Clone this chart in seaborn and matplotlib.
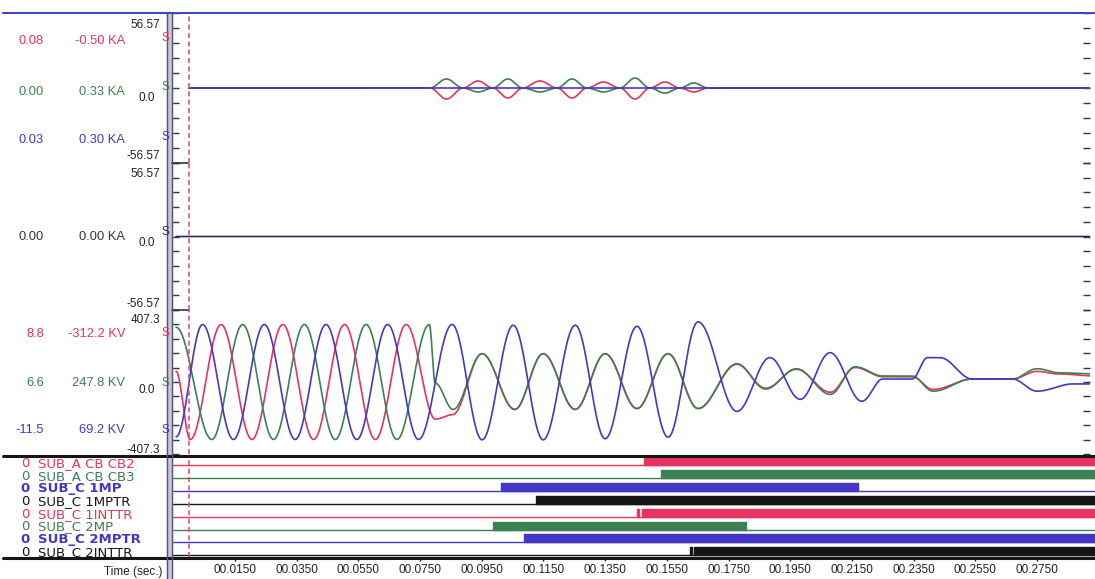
import numpy as np
import matplotlib
matplotlib.use("Agg")
import matplotlib.pyplot as plt
import seaborn as sns
from matplotlib.ticker import MultipleLocator

# ---- data ----
# voltage extrema (time s, kV) per phase
va_t = [-0.0041, 0.0005, 0.0105, 0.0205, 0.0305, 0.0405, 0.0505, 0.0605, 0.0705, 0.0800, 0.0855,
        0.0951, 0.1057, 0.1149, 0.1253, 0.1350, 0.1453, 0.1554, 0.1651, 0.1777, 0.1870, 0.1970,
        0.2080, 0.2160, 0.2250, 0.2345, 0.2413, 0.2540, 0.2670, 0.2750, 0.2823, 0.2940]
va_v = [60, -325, 325, -325, 325, -325, 325, -325, 325, -210, -185,
        160, -155, 160, -155, 160, -150, 160, -150, 100, -35, 72,
        -58, 82, 30, 30, -42, 17, 17, 60, 45, 34]
vb_t = [-0.0041, 0.0075, 0.0175, 0.0275, 0.0375, 0.0475, 0.0575, 0.0675, 0.0780, 0.0799, 0.0857,
        0.0951, 0.1057, 0.1149, 0.1253, 0.1350, 0.1453, 0.1554, 0.1651, 0.1777, 0.1870, 0.1970,
        0.2080, 0.2160, 0.2250, 0.2345, 0.2413, 0.2540, 0.2670, 0.2750, 0.2823, 0.2940]
vb_v = [310, -325, 325, -325, 325, -325, 325, -325, 325, -6, -155,
        160, -155, 160, -155, 160, -150, 160, -150, 103, -40, 75,
        -70, 86, 34, 34, -52, 17, 17, 75, 52, 46]
vc_t = [-0.0041, 0.0045, 0.0145, 0.0245, 0.0345, 0.0445, 0.0545, 0.0645, 0.0745, 0.0854, 0.0951,
        0.1052, 0.1149, 0.1253, 0.1350, 0.1453, 0.1554, 0.1651, 0.1777, 0.1884, 0.1982, 0.2079,
        0.2182, 0.2250, 0.2345, 0.2395, 0.2435, 0.2540, 0.2670, 0.2750, 0.2866, 0.2940]
vc_v = [-310, 325, -325, 325, -325, 325, -325, 325, -325, 325, -327,
        321, -327, 321, -321, 315, -312, 340, -166, 138, -98, 166,
        -109, 17, 17, 138, 138, 17, 17, -52, -11, -11]

# current lobes in the top channel (lobe edges in s, lobe peaks)
ia_edges = [0.0782, 0.0889, 0.0986, 0.1083, 0.1194, 0.1291, 0.1398, 0.1495, 0.1592, 0.1683]
ia_peaks = [-8.3, 5.3, -7.5, 5.3, -7.5, 4.5, -8.3, 4.5, -3.0]
ib_peaks = [6.8, -3.0, 6.8, -3.0, 6.8, -3.0, 7.5, -3.8, 3.8]

# digital channels
ch_names = ["SUB_A CB CB2", "SUB_A CB CB3", "SUB_C 1MP", "SUB_C 1MPTR",
            "SUB_C 1INTTR", "SUB_C 2MP", "SUB_C 2MPTR", "SUB_C 2INTTR"]
ch_on = [[(0.1477, 0.30)], [(0.1530, 0.30)], [(0.1013, 0.2170)], [(0.1125, 0.30)],
         [(0.1452, 0.1460), (0.1468, 0.30)], [(0.0987, 0.1806)], [(0.1087, 0.30)],
         [(0.1626, 0.1631), (0.1638, 0.30)]]

time_ticks = [0.015, 0.035, 0.055, 0.075, 0.095, 0.115, 0.135, 0.155,
              0.175, 0.195, 0.215, 0.235, 0.255, 0.275]
time_labels = ["00.0150", "00.0350", "00.0550", "00.0750", "00.0950", "00.1150", "00.1350",
               "00.1550", "00.1750", "00.1950", "00.2150", "00.2350", "00.2550", "00.2750"]

RED, GREEN, BLUE, BLACK = "#e8325f", "#3d8052", "#4636c6", "#151515"

sns.set_style("white")
plt.rcParams["font.family"] = ["Liberation Sans", "DejaVu Sans"]

W, H = 1095, 579
fig = plt.figure(figsize=(W / 100, H / 100), dpi=100)

T0_PX, PX_PER_S = 188.7, 3085.0


def t_of(px):
    return (px - T0_PX) / PX_PER_S


def add_panel(top, bottom, left=172, right=1090):
    ax = fig.add_axes([left / W, 1 - bottom / H, (right - left) / W, (bottom - top) / H])
    ax.set_facecolor("none")
    ax.set_xlim(t_of(left), t_of(right))
    for s in ax.spines.values():
        s.set_visible(False)
    return ax


def wave(tp, vp, t):
    # half-cosine between the extrema
    tp, vp = np.asarray(tp), np.asarray(vp, float)
    i = np.clip(np.searchsorted(tp, t) - 1, 0, len(tp) - 2)
    f = np.clip((t - tp[i]) / (tp[i + 1] - tp[i]), 0, 1)
    return vp[i] + (vp[i + 1] - vp[i]) * (1 - np.cos(np.pi * f)) / 2


def lobes(edges, peaks):
    tp, vp = [0.0], [0.0]
    for k, p in enumerate(peaks):
        tp += [edges[k], (edges[k] + edges[k + 1]) / 2]
        vp += [0.0, p]
    tp += [edges[-1], 0.294]
    vp += [0.0, 0.0]
    return tp, vp


def analog_ticks(ax, half):
    ax.set_ylim(-half, half)
    ax.yaxis.set_major_locator(MultipleLocator(half / 5))
    ax.tick_params(axis="y", left=True, right=True, direction="in", length=5,
                   width=1, color="#333344", labelleft=False)
    ax.tick_params(axis="x", bottom=False, labelbottom=False)
    ax.set_xlabel("")
    ax.set_ylabel("")


def draw(ax, t, v, color, lw=1.2):
    sns.lineplot(x=t, y=v, ax=ax, color=color, linewidth=lw, estimator=None,
                 sort=False, legend=False)


t = np.arange(-0.0041, 0.2925, 0.00004)

# panel 1: currents
ax1 = add_panel(13, 163)
tp, vp = lobes(ia_edges, ia_peaks)
tz = t[t >= 0]
draw(ax1, tz, wave(tp, vp, tz), RED)
tp, vp = lobes(ia_edges, ib_peaks)
draw(ax1, tz, wave(tp, vp, tz), GREEN)
draw(ax1, tz, np.zeros_like(tz), BLUE)
analog_ticks(ax1, 56.57)

# panel 2: neutral current
ax2 = add_panel(163, 310)
draw(ax2, t, np.zeros_like(t), "#2a2a55")
analog_ticks(ax2, 56.57)

# panel 3: voltages
ax3 = add_panel(310, 454)
draw(ax3, t, wave(va_t, va_v, t), RED)
draw(ax3, t, wave(vb_t, vb_v, t), GREEN)
draw(ax3, t, wave(vc_t, vc_v, t), BLUE)
analog_ticks(ax3, 407.3)

# digital channels
axd = add_panel(456, 557, right=1095)
axd.set_ylim(7.13, -0.70)
ch_colors = [RED, GREEN, BLUE, BLACK, RED, GREEN, BLUE, BLACK]
for k, (name, c) in enumerate(zip(ch_names, ch_colors)):
    axd.hlines(k, t_of(172), t_of(1095), color=c, lw=1.0)
    axd.broken_barh([(a, b - a) for a, b in ch_on[k]], (k - 0.62, 0.62), color=c)
axd.set_yticks([])
axd.set_xticks(time_ticks)
axd.set_xticklabels(time_labels)
axd.tick_params(axis="x", bottom=True, direction="out", length=3, width=1,
                color="#222", labelsize=8.5, pad=2, labelcolor="#222")

for ax in (ax1, ax2, ax3, axd):
    ax.axvline(0, color="#e0507a", lw=1.2, ls=(0, (3, 2)))

# overlay for the frame and channel annotations
ov = fig.add_axes([0, 0, 1, 1], zorder=5)
ov.set_xlim(0, W)
ov.set_ylim(H, 0)
ov.axis("off")
ov.patch.set_visible(False)

ov.plot([3, W], [13, 13], color="#4545c0", lw=1.5)
for y in (456, 558):
    ov.plot([3, W], [y, y], color=BLACK, lw=2.2)
for y in (163, 310):
    ov.plot([172, 188], [y, y], color="#333344", lw=1.2)

fs = 8.5
# scale labels
for y, s, x in [(25, "56.57", 160), (98, "0.0", 155), (156, "-56.57", 160), (174, "56.57", 160),
                (243, "0.0", 155), (304, "-56.57", 160), (320, "407.3", 160), (390, "0.0", 155),
                (450, "-407.3", 160)]:
    ov.text(x, y, s, ha="right", va="center", fontsize=fs, color="#222")

# channel values
rows = [(41, "0.08", "-0.50 KA", RED), (92, "0.00", "0.33 KA", GREEN), (140, "0.03", "0.30 KA", BLUE),
        (237, "0.00", "0.00 KA", "#333344"), (334, "8.8", "-312.2 KV", RED),
        (383, "6.6", "247.8 KV", GREEN), (430, "-11.5", "69.2 KV", BLUE)]
for y, a, b, c in rows:
    ov.text(44, y, a, ha="right", va="center", fontsize=9.3, color=c)
    ov.text(125, y, b, ha="right", va="center", fontsize=9.3, color=c)
for y, c in [(38, RED), (87, GREEN), (137, BLUE), (232, "#333344"),
             (333, RED), (383, GREEN), (430, BLUE)]:
    ov.text(162, y, "S", ha="left", va="center", fontsize=fs, color=c)

# digital names
for k, (name, c) in enumerate(zip(ch_names, ch_colors)):
    y = 463.5 + 12.7 * k
    w = "bold" if c == BLUE else "normal"
    ov.text(25, y, "0", ha="center", va="center", fontsize=9.5, color=c, weight=w,
            family="DejaVu Sans")
    ov.text(38, y, name, ha="left", va="center", fontsize=9.5, color=c, weight=w,
            family="DejaVu Sans")

ov.text(163, 572, "Time (sec.)", ha="right", va="center", fontsize=fs, color="#222")

# left double rule
ov.fill_betweenx([13, H], 167, 172, color="#cbc4de")
ov.plot([167, 167], [13, H], color="#55556a", lw=1)
ov.plot([172, 172], [13, H], color="#55556a", lw=1)

fig.savefig("out.png", dpi=100)
